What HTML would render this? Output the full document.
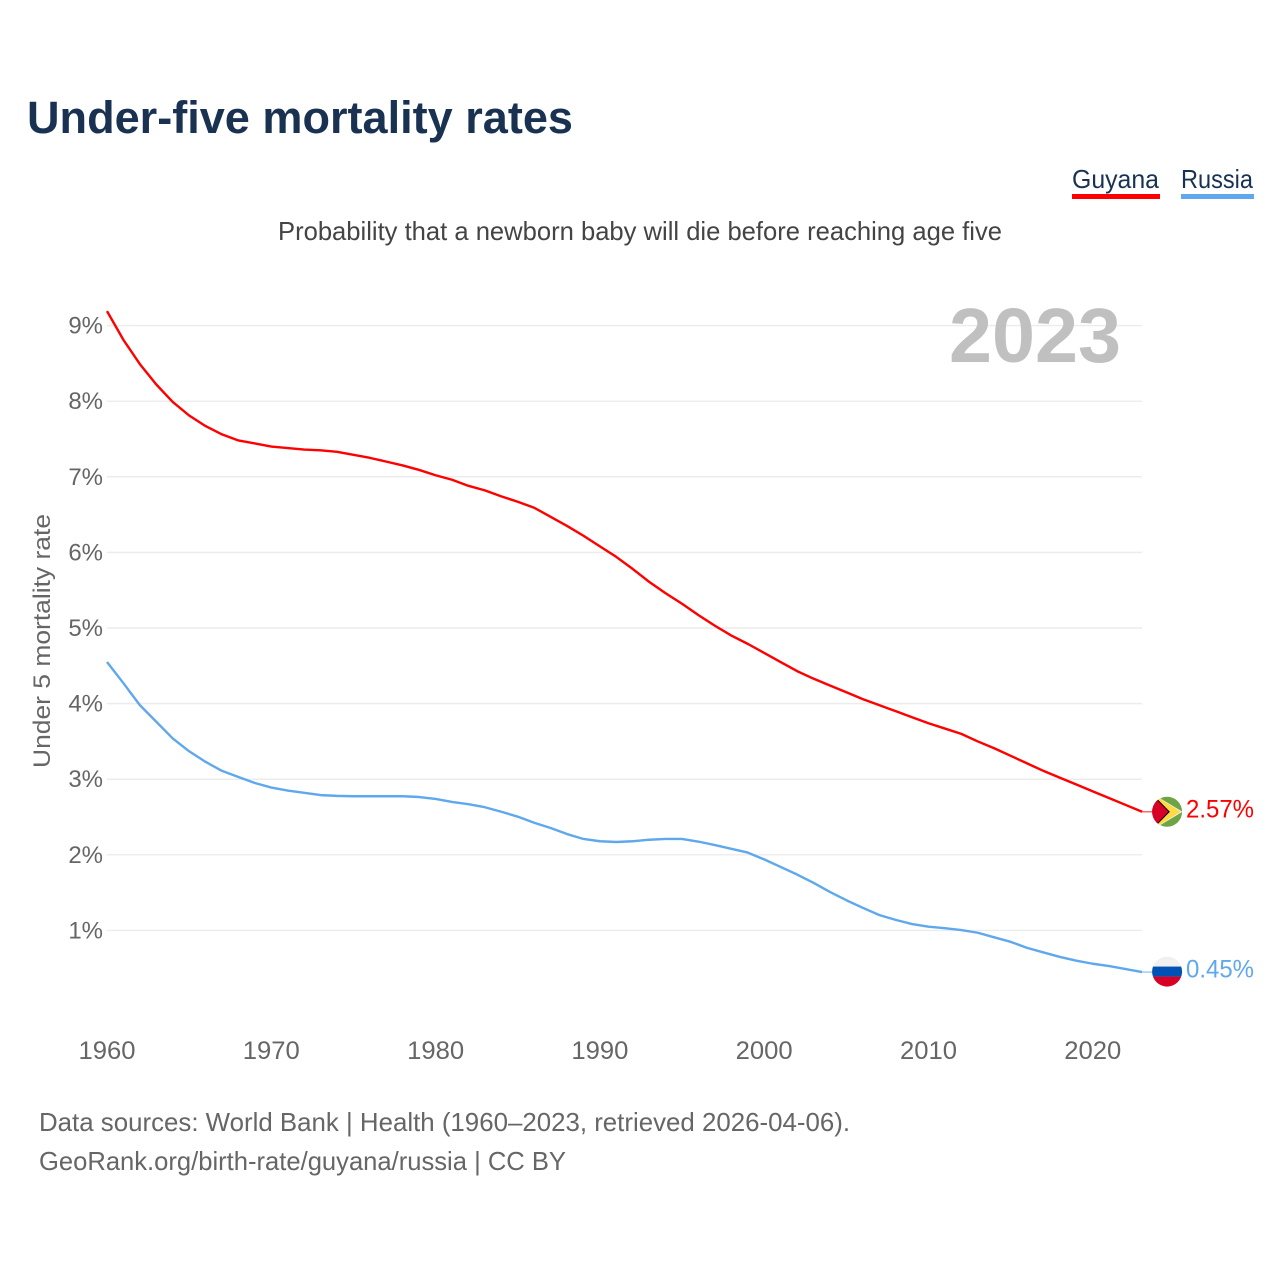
<!DOCTYPE html>
<html lang="en">
<head>
<meta charset="utf-8">
<title>Under-five mortality rates</title>
<style>
html,body{margin:0;padding:0;background:#fff;width:1280px;height:1280px;overflow:hidden}
svg{display:block;font-family:"Liberation Sans",Arial,sans-serif}
</style>
</head>
<body>
<svg id="chart" xmlns="http://www.w3.org/2000/svg" width="1280" height="1280" viewBox="0 0 1280 1280">
  <defs>
    <clipPath id="flag-clip"><circle cx="0" cy="0" r="15"/></clipPath>
  </defs>
  <rect x="0" y="0" width="1280" height="1280" fill="#fff"/>
  <text x="27" y="133" font-size="45" font-weight="700" fill="#1a3252" textLength="546" lengthAdjust="spacingAndGlyphs">Under-five mortality rates</text>

  <g>
    <text x="1072" y="188" font-size="26" fill="#1a3252" textLength="87" lengthAdjust="spacingAndGlyphs">Guyana</text>
    <rect x="1072" y="194" width="88" height="5" fill="#ff0000"/>
  </g>
  <g>
    <text x="1181" y="188" font-size="26" fill="#1a3252" textLength="72" lengthAdjust="spacingAndGlyphs">Russia</text>
    <rect x="1181" y="194" width="73" height="5" fill="#5fa8ee"/>
  </g>

  <text x="278" y="240" font-size="26" fill="#444" textLength="724" lengthAdjust="spacingAndGlyphs">Probability that a newborn baby will die before reaching age five</text>

  <g id="grid"></g>
  <g id="y-ticks"></g>
  <g id="x-ticks"></g>

  <text x="949" y="362" font-size="77" font-weight="700" fill="#c0c0c0" textLength="172" lengthAdjust="spacingAndGlyphs">2023</text>

  <text transform="translate(50,641) rotate(-90)" text-anchor="middle" font-size="24" fill="#666" textLength="254" lengthAdjust="spacingAndGlyphs">Under 5 mortality rate</text>

  <g id="series"></g>

  <g id="flag-guyana">
    <g clip-path="url(#flag-clip)">
      <rect x="-16" y="-16" width="32" height="32" fill="#6da544"/>
      <polygon points="-12,-16.5 15.5,0 -12,16.5" fill="#f0f0f0"/>
      <polygon points="-11,-15.5 13.5,0 -11,15.5" fill="#ffda44"/>
      <polygon points="-12,-15 2.8,0 -12,15" fill="#000"/>
      <polygon points="-16,-18 1.3,0 -16,18" fill="#d80027"/>
    </g>
  </g>
  <g id="flag-russia">
    <g clip-path="url(#flag-clip)">
      <rect x="-16" y="-16" width="32" height="32" fill="#f0f0f0"/>
      <rect x="-16" y="-5" width="32" height="10" fill="#0052b4"/>
      <rect x="-16" y="5" width="32" height="11" fill="#d80027"/>
    </g>
  </g>
  <text id="value-guyana" x="1186" font-size="25" fill="#ff0000" textLength="68" lengthAdjust="spacingAndGlyphs"></text>
  <text id="value-russia" x="1186" font-size="25" fill="#5fa8ee" textLength="68" lengthAdjust="spacingAndGlyphs"></text>

  <text x="39" y="1131" font-size="26" fill="#666" textLength="811" lengthAdjust="spacingAndGlyphs">Data sources: World Bank | Health (1960–2023, retrieved 2026-04-06).</text>
  <text x="39" y="1170" font-size="26" fill="#666" textLength="527" lengthAdjust="spacingAndGlyphs">GeoRank.org/birth-rate/guyana/russia | CC BY</text>
</svg>
<script>
const years = [1960,1961,1962,1963,1964,1965,1966,1967,1968,1969,1970,1971,1972,1973,1974,1975,1976,1977,1978,1979,1980,1981,1982,1983,1984,1985,1986,1987,1988,1989,1990,1991,1992,1993,1994,1995,1996,1997,1998,1999,2000,2001,2002,2003,2004,2005,2006,2007,2008,2009,2010,2011,2012,2013,2014,2015,2016,2017,2018,2019,2020,2021,2022,2023];
const guyana = [9.19,8.81,8.49,8.22,7.99,7.81,7.67,7.56,7.48,7.44,7.40,7.38,7.36,7.35,7.33,7.29,7.25,7.20,7.15,7.09,7.02,6.96,6.88,6.82,6.74,6.67,6.59,6.47,6.35,6.22,6.08,5.94,5.78,5.61,5.46,5.32,5.17,5.03,4.90,4.79,4.67,4.55,4.43,4.33,4.24,4.15,4.06,3.98,3.90,3.82,3.74,3.67,3.60,3.50,3.41,3.31,3.21,3.11,3.02,2.93,2.84,2.75,2.66,2.57];
const russia = [4.55,4.27,3.98,3.76,3.54,3.37,3.23,3.11,3.03,2.95,2.89,2.85,2.82,2.79,2.78,2.775,2.775,2.775,2.775,2.765,2.74,2.70,2.67,2.63,2.57,2.505,2.425,2.355,2.275,2.21,2.18,2.17,2.18,2.20,2.21,2.21,2.175,2.13,2.08,2.03,1.94,1.84,1.74,1.63,1.51,1.40,1.30,1.205,1.14,1.085,1.05,1.03,1.005,0.97,0.91,0.85,0.77,0.71,0.65,0.60,0.56,0.53,0.49,0.45];
const yTickValues = [1,2,3,4,5,6,7,8,9];
const yTickLabels = ["1%","2%","3%","4%","5%","6%","7%","8%","9%"];
const xTickValues = [1960,1970,1980,1990,2000,2010,2020];
const xTickLabels = ["1960","1970","1980","1990","2000","2010","2020"];
const guyanaValueLabel = "2.57%";
const russiaValueLabel = "0.45%";

const SVGNS = 'http://www.w3.org/2000/svg';
function xScale(year){ return 107 + (year - 1960) * 16.43; }
function yScale(v){ return 1006.1 - v * 75.62; }
function pathFor(values){
  return values.map(function(v,i){
    return (i ? 'L' : 'M') + xScale(years[i]).toFixed(2) + ' ' + yScale(v).toFixed(2);
  }).join(' ');
}

const gridGroup = document.getElementById('grid');
const yGroup = document.getElementById('y-ticks');
yTickValues.forEach(function(v,i){
  const line = document.createElementNS(SVGNS,'line');
  
  
  line.setAttribute('x1', 107);
  line.setAttribute('x2', 1142);
  line.setAttribute('y1', yScale(v));
  line.setAttribute('y2', yScale(v));
  line.setAttribute('stroke', '#ececec');
  line.setAttribute('stroke-width', 1.4);
  gridGroup.appendChild(line);

  const label = document.createElementNS(SVGNS,'text');
  
  
  label.setAttribute('x', 103);
  label.setAttribute('y', yScale(v) + 8);
  label.setAttribute('text-anchor', 'end');
  label.setAttribute('font-size', 24);
  label.setAttribute('fill', '#666');
  label.textContent = yTickLabels[i];
  yGroup.appendChild(label);
});

const xGroup = document.getElementById('x-ticks');
xTickValues.forEach(function(v,i){
  const label = document.createElementNS(SVGNS,'text');
  
  
  label.setAttribute('x', xScale(v));
  label.setAttribute('y', 1059);
  label.setAttribute('text-anchor', 'middle');
  label.setAttribute('font-size', 25);
  label.setAttribute('fill', '#666');
  label.setAttribute('textLength', 57);
  label.setAttribute('lengthAdjust', 'spacingAndGlyphs');
  label.textContent = xTickLabels[i];
  xGroup.appendChild(label);
});

const seriesGroup = document.getElementById('series');

const guyanaLine = document.createElementNS(SVGNS,'path');


guyanaLine.setAttribute('d', pathFor(guyana));
guyanaLine.setAttribute('fill', 'none');
guyanaLine.setAttribute('stroke', '#ff0000');
guyanaLine.setAttribute('stroke-width', 2.4);
guyanaLine.setAttribute('stroke-linejoin', 'round');
seriesGroup.appendChild(guyanaLine);

const russiaLine = document.createElementNS(SVGNS,'path');


russiaLine.setAttribute('d', pathFor(russia));
russiaLine.setAttribute('fill', 'none');
russiaLine.setAttribute('stroke', '#5fa8ee');
russiaLine.setAttribute('stroke-width', 2.4);
russiaLine.setAttribute('stroke-linejoin', 'round');
seriesGroup.appendChild(russiaLine);

const lastX = xScale(years[years.length - 1]);
const guyanaEndY = yScale(guyana[guyana.length - 1]);
const russiaEndY = yScale(russia[russia.length - 1]);

const guyanaConnector = document.createElementNS(SVGNS,'line');


guyanaConnector.setAttribute('x1', lastX);
guyanaConnector.setAttribute('x2', lastX + 11);
guyanaConnector.setAttribute('y1', guyanaEndY);
guyanaConnector.setAttribute('y2', guyanaEndY);
guyanaConnector.setAttribute('stroke', '#ff0000');
guyanaConnector.setAttribute('stroke-opacity', 0.6);
guyanaConnector.setAttribute('stroke-width', 1.5);
seriesGroup.appendChild(guyanaConnector);

const russiaConnector = document.createElementNS(SVGNS,'line');


russiaConnector.setAttribute('x1', lastX);
russiaConnector.setAttribute('x2', lastX + 11);
russiaConnector.setAttribute('y1', russiaEndY);
russiaConnector.setAttribute('y2', russiaEndY);
russiaConnector.setAttribute('stroke', '#5fa8ee');
russiaConnector.setAttribute('stroke-opacity', 0.6);
russiaConnector.setAttribute('stroke-width', 1.5);
seriesGroup.appendChild(russiaConnector);

document.getElementById('flag-guyana').setAttribute('transform', 'translate(' + (lastX + 25) + ',' + guyanaEndY + ')');
document.getElementById('flag-russia').setAttribute('transform', 'translate(' + (lastX + 25) + ',' + (russiaEndY - 0.5) + ')');

const guyanaValue = document.getElementById('value-guyana');
guyanaValue.setAttribute('y', guyanaEndY + 5.5);
guyanaValue.textContent = guyanaValueLabel;
const russiaValue = document.getElementById('value-russia');
russiaValue.setAttribute('y', russiaEndY + 5.5);
russiaValue.textContent = russiaValueLabel;
</script>
</body>
</html>
